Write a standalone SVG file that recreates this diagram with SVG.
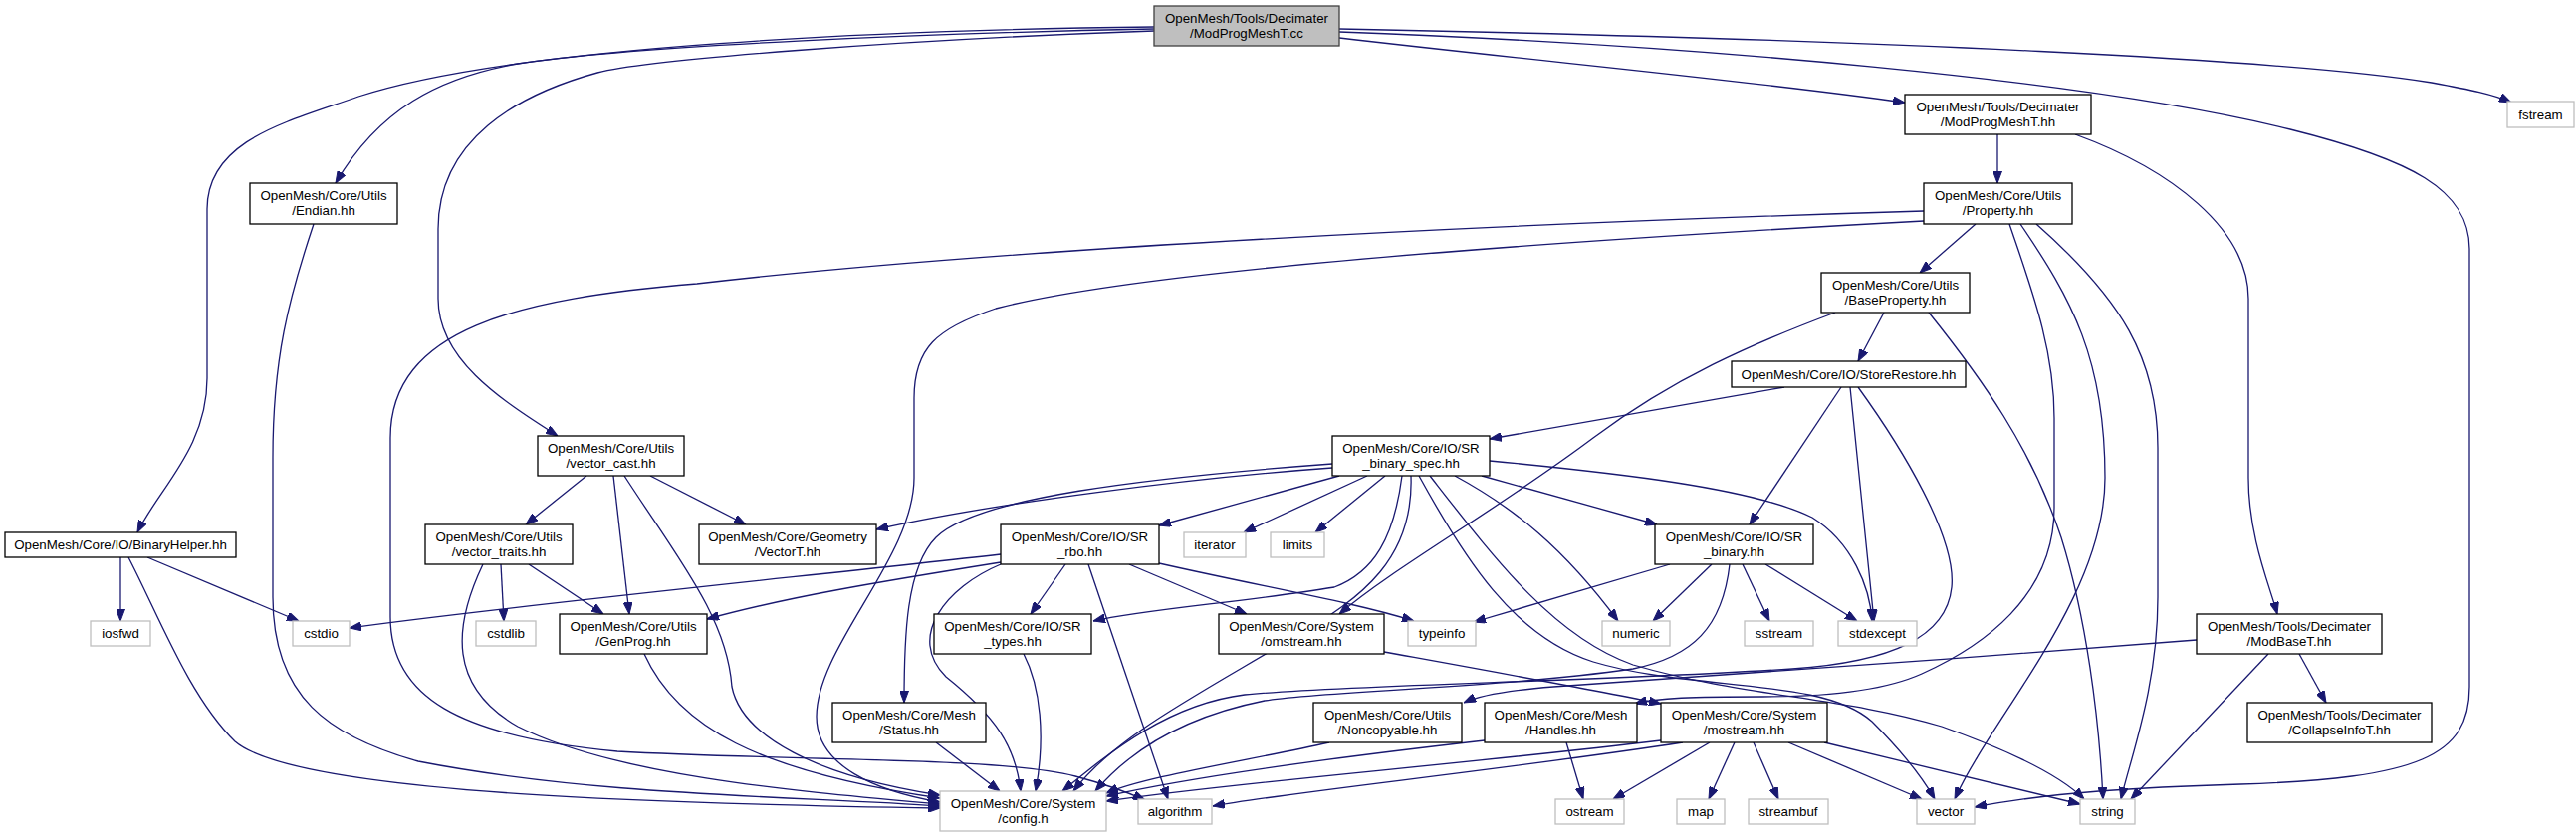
<svg xmlns="http://www.w3.org/2000/svg" width="2587" height="841" viewBox="0 0 2587 841">
<style>
.n rect{fill:#fff;stroke:#000;stroke-width:1.3}
.s rect{fill:#fff;stroke:#bfbfbf;stroke-width:1.3}
.r rect{fill:#bfbfbf;stroke:#404040;stroke-width:1.3}
text{font-family:"Liberation Sans",Arial,sans-serif;font-size:13.3px;fill:#000;text-anchor:middle}
#edges path{fill:none;stroke:#191970;stroke-width:1.3;marker-end:url(#a)}
</style>
<defs>
<marker id="a" markerUnits="userSpaceOnUse" markerWidth="12" markerHeight="9" viewBox="0 0 12 9" refX="12" refY="4.5" orient="auto">
<path d="M0,0 L12,4.5 L0,9 z" fill="#191970" stroke="#191970" stroke-width="1"/>
</marker>
</defs>
<rect width="2587" height="841" fill="#fff"/>
<g id="edges">
<path d="M1159,27 C900,30 520,45 360,97 C290,122 208,140 208,210 L208,380 C208,450 160,490 138,535"/>
<path d="M1159,29 C950,33 640,45 520,64 C440,78 380,110 337,184"/>
<path d="M1159,31 C900,40 650,60 600,73 C520,95 440,140 440,230 L440,300 C440,360 500,400 560,438"/>
<path d="M1345,38 C1550,62 1750,80 1913,103"/>
<path d="M1345,32 C1700,45 2100,80 2300,130 C2420,160 2480,190 2480,250 L2480,690 C2480,760 2430,782 2250,788 C2150,791 2060,796 1983,811"/>
<path d="M1345,29 C1900,40 2300,60 2442,83 C2480,90 2505,95 2522,103"/>
<path d="M2006,135 L2006,184"/>
<path d="M2084,135 C2180,170 2258,230 2258,300 L2258,480 C2258,540 2280,590 2287,617"/>
<path d="M1984,225 L1928,274"/>
<path d="M1932,222 C1600,240 1150,270 1000,310 C940,330 918,350 918,400 L918,480 C918,560 820,650 820,720 C820,770 880,795 944,806"/>
<path d="M1932,212 C1500,225 1000,250 700,285 C520,300 392,330 392,440 L392,620 C392,700 460,740 620,755 C800,765 1000,760 1080,780 C1110,788 1130,795 1150,804"/>
<path d="M2018,225 C2040,290 2063,350 2063,420 L2063,510 C2063,600 1990,650 1930,677 C1890,695 1830,700 1770,700 C1700,700 1665,701 1642,707"/>
<path d="M2029,225 C2080,300 2114,360 2114,480 C2114,600 2000,720 1963,803"/>
<path d="M2045,225 C2130,300 2167,360 2167,450 L2167,600 C2167,690 2140,760 2130,803"/>
<path d="M1892,314 L1866,363"/>
<path d="M1843,314 C1760,345 1680,380 1600,440 C1500,515 1400,570 1345,617"/>
<path d="M1937,314 C1990,380 2040,450 2070,540 C2095,620 2108,720 2112,803"/>
<path d="M1792,389 L1496,441"/>
<path d="M1849,389 L1757,527"/>
<path d="M1858,389 C1866,470 1876,560 1882,624"/>
<path d="M1866,389 C1910,450 1965,540 1960,590 C1955,640 1900,665 1800,672 C1600,685 1350,688 1250,698 C1170,708 1110,760 1067,795"/>
<path d="M1496,463 C1620,475 1760,490 1820,520 C1860,545 1878,590 1880,624"/>
<path d="M1338,470 C1200,480 1000,505 880,532"/>
<path d="M1338,466 C1150,480 980,500 940,540 C910,570 908,640 908,706"/>
<path d="M1345,478 L1164,528"/>
<path d="M1373,478 L1249,535"/>
<path d="M1391,478 L1321,535"/>
<path d="M1408,478 C1400,540 1380,575 1340,590 C1250,605 1150,612 1098,624"/>
<path d="M1417,478 C1420,560 1370,600 1300,640 C1200,700 1120,740 1078,795"/>
<path d="M1425,478 C1470,560 1520,640 1600,665 C1700,695 1830,680 1880,725 C1910,755 1930,780 1943,803"/>
<path d="M1436,478 C1500,560 1560,640 1640,668 C1750,700 1850,700 1950,730 C2020,755 2070,780 2093,803"/>
<path d="M1461,478 C1520,510 1570,550 1625,624"/>
<path d="M1488,478 L1664,527"/>
<path d="M1005,557 C800,580 500,610 351,631"/>
<path d="M1005,565 C880,585 790,600 710,622"/>
<path d="M1005,567 C950,590 910,640 950,680 C1000,720 1020,750 1025,795"/>
<path d="M1070,567 L1035,617"/>
<path d="M1093,567 L1173,803"/>
<path d="M1134,567 L1252,617"/>
<path d="M1164,566 C1270,590 1360,605 1420,624"/>
<path d="M1677,567 L1480,625"/>
<path d="M1719,567 L1660,624"/>
<path d="M1750,567 L1777,624"/>
<path d="M1773,567 L1865,624"/>
<path d="M1737,567 C1730,630 1700,660 1640,672 C1500,692 1330,694 1270,704 C1180,722 1130,760 1100,795"/>
<path d="M2206,643 C2000,660 1700,680 1560,690 C1510,694 1485,699 1470,706"/>
<path d="M2278,657 L2140,803"/>
<path d="M2309,657 L2336,706"/>
<path d="M1390,655 C1500,675 1600,693 1668,707"/>
<path d="M1335,746 C1250,765 1150,780 1111,797"/>
<path d="M1491,744 C1350,760 1200,780 1111,800"/>
<path d="M1573,746 L1590,803"/>
<path d="M1668,744 C1450,770 1250,785 1111,805"/>
<path d="M1690,746 C1500,775 1300,795 1218,810"/>
<path d="M1717,746 L1620,803"/>
<path d="M1742,746 L1716,803"/>
<path d="M1761,746 L1786,803"/>
<path d="M1796,746 L1930,803"/>
<path d="M1832,746 L2089,808"/>
<path d="M940,746 L1004,795"/>
<path d="M1028,657 C1045,690 1050,740 1040,795"/>
<path d="M647,657 C680,730 760,775 944,802"/>
<path d="M485,567 C455,630 450,690 520,730 C620,780 800,795 944,808"/>
<path d="M503,567 L506,624"/>
<path d="M531,567 L606,617"/>
<path d="M589,478 L528,527"/>
<path d="M616,478 L632,617"/>
<path d="M627,478 C680,560 730,620 735,690 C745,740 820,780 944,799"/>
<path d="M653,478 L749,527"/>
<path d="M121,560 L121,624"/>
<path d="M148,560 L300,624"/>
<path d="M129,560 C160,620 190,700 236,745 C300,800 700,808 944,812"/>
<path d="M315,225 C290,300 274,360 274,460 L274,600 C274,700 330,740 420,765 C600,800 800,800 944,810"/>
</g>
<g id="node_cc" class="r"><rect x="1159" y="6" width="186" height="40"/><text x="1252" y="23">OpenMesh/Tools/Decimater</text><text x="1252" y="37.5">/ModProgMeshT.cc</text></g>
<g id="node_binaryhelper" class="n"><rect x="5" y="535" width="232" height="25"/><text x="121" y="552">OpenMesh/Core/IO/BinaryHelper.hh</text></g>
<g id="node_endian" class="n"><rect x="251" y="184" width="148" height="41"/><text x="325" y="201">OpenMesh/Core/Utils</text><text x="325" y="215.5">/Endian.hh</text></g>
<g id="node_vector_cast" class="n"><rect x="540" y="438" width="147" height="40"/><text x="613.5" y="455">OpenMesh/Core/Utils</text><text x="613.5" y="469.5">/vector_cast.hh</text></g>
<g id="node_modprogmesh_hh" class="n"><rect x="1913" y="95" width="187" height="40"/><text x="2006.5" y="112">OpenMesh/Tools/Decimater</text><text x="2006.5" y="126.5">/ModProgMeshT.hh</text></g>
<g id="node_fstream" class="s"><rect x="2518" y="102" width="67" height="26"/><text x="2551.5" y="119.5">fstream</text></g>
<g id="node_property" class="n"><rect x="1932" y="184" width="149" height="41"/><text x="2006.5" y="201">OpenMesh/Core/Utils</text><text x="2006.5" y="215.5">/Property.hh</text></g>
<g id="node_baseproperty" class="n"><rect x="1829" y="274" width="149" height="40"/><text x="1903.5" y="291">OpenMesh/Core/Utils</text><text x="1903.5" y="305.5">/BaseProperty.hh</text></g>
<g id="node_storerestore" class="n"><rect x="1739" y="363" width="235" height="26"/><text x="1856.5" y="380.5">OpenMesh/Core/IO/StoreRestore.hh</text></g>
<g id="node_sr_binary_spec" class="n"><rect x="1338" y="438" width="158" height="40"/><text x="1417" y="455">OpenMesh/Core/IO/SR</text><text x="1417" y="469.5">_binary_spec.hh</text></g>
<g id="node_sr_rbo" class="n"><rect x="1005" y="527" width="159" height="40"/><text x="1084.5" y="544">OpenMesh/Core/IO/SR</text><text x="1084.5" y="558.5">_rbo.hh</text></g>
<g id="node_iterator" class="s"><rect x="1189" y="535" width="62" height="25"/><text x="1220" y="552">iterator</text></g>
<g id="node_limits" class="s"><rect x="1276" y="535" width="54" height="25"/><text x="1303" y="552">limits</text></g>
<g id="node_sr_binary" class="n"><rect x="1662" y="527" width="159" height="40"/><text x="1741.5" y="544">OpenMesh/Core/IO/SR</text><text x="1741.5" y="558.5">_binary.hh</text></g>
<g id="node_vector_traits" class="n"><rect x="427" y="527" width="148" height="40"/><text x="501" y="544">OpenMesh/Core/Utils</text><text x="501" y="558.5">/vector_traits.hh</text></g>
<g id="node_vectort" class="n"><rect x="702" y="527" width="178" height="40"/><text x="791" y="544">OpenMesh/Core/Geometry</text><text x="791" y="558.5">/VectorT.hh</text></g>
<g id="node_iosfwd" class="s"><rect x="91" y="624" width="60" height="25"/><text x="121" y="641">iosfwd</text></g>
<g id="node_cstdio" class="s"><rect x="294" y="624" width="57" height="25"/><text x="322.5" y="641">cstdio</text></g>
<g id="node_cstdlib" class="s"><rect x="478" y="624" width="60" height="25"/><text x="508" y="641">cstdlib</text></g>
<g id="node_genprog" class="n"><rect x="562" y="617" width="148" height="40"/><text x="636" y="634">OpenMesh/Core/Utils</text><text x="636" y="648.5">/GenProg.hh</text></g>
<g id="node_sr_types" class="n"><rect x="938" y="617" width="158" height="40"/><text x="1017" y="634">OpenMesh/Core/IO/SR</text><text x="1017" y="648.5">_types.hh</text></g>
<g id="node_omstream" class="n"><rect x="1224" y="617" width="166" height="40"/><text x="1307" y="634">OpenMesh/Core/System</text><text x="1307" y="648.5">/omstream.hh</text></g>
<g id="node_typeinfo" class="s"><rect x="1414" y="624" width="68" height="25"/><text x="1448" y="641">typeinfo</text></g>
<g id="node_numeric" class="s"><rect x="1609" y="624" width="68" height="25"/><text x="1643" y="641">numeric</text></g>
<g id="node_sstream" class="s"><rect x="1752" y="624" width="69" height="25"/><text x="1786.5" y="641">sstream</text></g>
<g id="node_stdexcept" class="s"><rect x="1846" y="624" width="79" height="25"/><text x="1885.5" y="641">stdexcept</text></g>
<g id="node_modbaset" class="n"><rect x="2206" y="617" width="186" height="40"/><text x="2299" y="634">OpenMesh/Tools/Decimater</text><text x="2299" y="648.5">/ModBaseT.hh</text></g>
<g id="node_status" class="n"><rect x="836" y="706" width="154" height="40"/><text x="913" y="723">OpenMesh/Core/Mesh</text><text x="913" y="737.5">/Status.hh</text></g>
<g id="node_noncopyable" class="n"><rect x="1319" y="706" width="149" height="40"/><text x="1393.5" y="723">OpenMesh/Core/Utils</text><text x="1393.5" y="737.5">/Noncopyable.hh</text></g>
<g id="node_handles" class="n"><rect x="1491" y="706" width="153" height="40"/><text x="1567.5" y="723">OpenMesh/Core/Mesh</text><text x="1567.5" y="737.5">/Handles.hh</text></g>
<g id="node_mostream" class="n"><rect x="1668" y="706" width="167" height="40"/><text x="1751.5" y="723">OpenMesh/Core/System</text><text x="1751.5" y="737.5">/mostream.hh</text></g>
<g id="node_collapseinfot" class="n"><rect x="2257" y="706" width="185" height="40"/><text x="2349.5" y="723">OpenMesh/Tools/Decimater</text><text x="2349.5" y="737.5">/CollapseInfoT.hh</text></g>
<g id="node_config" class="s"><rect x="944" y="795" width="167" height="40"/><text x="1027.5" y="812">OpenMesh/Core/System</text><text x="1027.5" y="826.5">/config.h</text></g>
<g id="node_algorithm" class="s"><rect x="1143" y="803" width="74" height="25"/><text x="1180" y="820">algorithm</text></g>
<g id="node_ostream" class="s"><rect x="1562" y="803" width="69" height="25"/><text x="1596.5" y="820">ostream</text></g>
<g id="node_map" class="s"><rect x="1684" y="803" width="48" height="25"/><text x="1708" y="820">map</text></g>
<g id="node_streambuf" class="s"><rect x="1756" y="803" width="80" height="25"/><text x="1796" y="820">streambuf</text></g>
<g id="node_vector" class="s"><rect x="1925" y="803" width="58" height="25"/><text x="1954" y="820">vector</text></g>
<g id="node_string" class="s"><rect x="2089" y="803" width="55" height="25"/><text x="2116.5" y="820">string</text></g>
</svg>
